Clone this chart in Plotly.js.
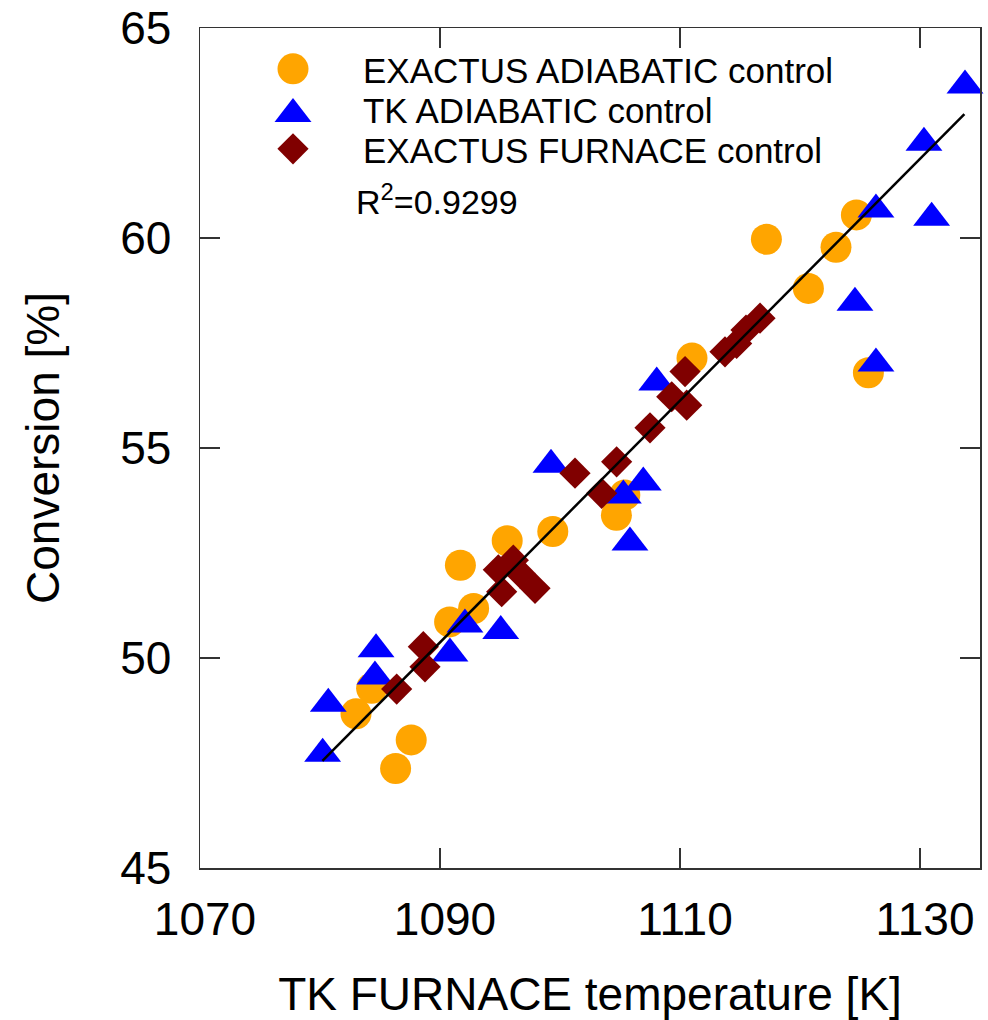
<!DOCTYPE html>
<html>
<head>
<meta charset="utf-8">
<script src="https://cdn.plot.ly/plotly-3.0.1.min.js"></script>
<style>html,body{margin:0;padding:0;background:#fff;}#chart{width:988px;height:1020px;}</style>
</head>
<body>
<div id="chart"></div>
<script>
// EXACTUS ADIABATIC control (orange circles)
var adiabaticExactusX = [1124.7, 1117.2, 1123.0, 1120.7, 1111.0, 1125.7, 1104.7, 1105.4, 1099.4, 1095.6, 1091.7, 1092.8, 1090.8, 1084.3, 1083.0, 1087.6, 1086.3];
var adiabaticExactusY = [60.55, 59.97, 59.78, 58.80, 57.14, 56.79, 53.40, 53.88, 53.01, 52.79, 52.21, 51.18, 50.86, 49.28, 48.67, 48.05, 47.37];
// TK ADIABATIC control (blue triangles)
var adiabaticTkX = [1133.75, 1130.33, 1126.33, 1130.97, 1124.58, 1126.33, 1108.06, 1099.25, 1106.94, 1105.28, 1105.83, 1092.08, 1095.06, 1090.83, 1084.67, 1084.58, 1080.69, 1080.22];
var adiabaticTkY = [63.63, 62.27, 60.68, 60.48, 58.46, 57.01, 56.56, 54.60, 54.18, 53.87, 52.75, 50.80, 50.64, 50.11, 50.21, 49.56, 48.91, 47.72];
// EXACTUS FURNACE control (dark red diamonds)
var furnaceExactusX = [1116.67, 1115.50, 1114.72, 1113.75, 1110.42, 1109.31, 1110.56, 1107.50, 1104.72, 1101.25, 1103.47, 1096.11, 1094.86, 1096.67, 1097.92, 1095.14, 1088.61, 1088.75, 1086.39];
var furnaceExactusY = [58.09, 57.81, 57.49, 57.29, 56.82, 56.22, 56.02, 55.48, 54.67, 54.40, 53.92, 52.33, 52.10, 52.02, 51.66, 51.58, 50.27, 49.79, 49.26];
// Linear fit end points
var fitX = [1080.2, 1133.7];
var fitY = [47.55, 62.95];
var xTicks = [1070, 1090, 1110, 1130];
var yTicks = [45, 50, 55, 60, 65];
var r2Label = 'R<sup>2</sup>=0.9299';

var FONT = 'Liberation Sans, Arial, sans-serif';

var traces = [
  {x: adiabaticExactusX, y: adiabaticExactusY, mode: 'markers', type: 'scatter', name: 'EXACTUS ADIABATIC control',
   marker: {symbol: 'circle', size: 31, color: '#FFA500', line: {width: 0}}},
  {x: adiabaticTkX, y: adiabaticTkY, mode: 'markers', type: 'scatter', name: 'TK ADIABATIC control', cliponaxis: false,
   marker: {symbol: 'triangle-up', size: 32, color: '#0000FF', line: {width: 0}}},
  {x: furnaceExactusX, y: furnaceExactusY, mode: 'markers', type: 'scatter', name: 'EXACTUS FURNACE control',
   marker: {symbol: 'diamond', size: 24, color: '#800000', line: {width: 0}}},
  {x: fitX, y: fitY, mode: 'lines', type: 'scatter', showlegend: false, hoverinfo: 'skip',
   line: {color: '#000000', width: 2.5}}
];

var axisCommon = {
  showgrid: false, zeroline: false, showline: true, linecolor: '#333333', linewidth: 1.5,
  mirror: 'allticks', ticks: 'inside', ticklen: 20, tickwidth: 1.5, tickcolor: '#333333',
  tickfont: {family: FONT, size: 46, color: '#000'}
};

var layout = {
  width: 988, height: 1020,
  margin: {l: 200, r: 8, t: 28, b: 152},
  paper_bgcolor: '#fff', plot_bgcolor: '#fff',
  font: {family: FONT, color: '#000'},
  xaxis: Object.assign({}, axisCommon, {
    range: [1070, 1135], tickvals: xTicks, ticktext: xTicks.map(String),
    ticklabelstandoff: 10, ticklabelshift: 5,
    title: {text: 'TK FURNACE temperature [K]', font: {family: FONT, size: 46, color: '#000'}, standoff: 36}
  }),
  yaxis: Object.assign({}, axisCommon, {
    range: [45, 65], tickvals: yTicks, ticktext: yTicks.map(String),
    ticklabelstandoff: 18,
    title: {text: 'Conversion [%]', font: {family: FONT, size: 46, color: '#000'}, standoff: 46}
  }),
  showlegend: true,
  legend: {x: 0.117, y: 0.99, xanchor: 'left', yanchor: 'top', bgcolor: 'rgba(0,0,0,0)',
           font: {family: FONT, size: 35, color: '#000'}, itemsizing: 'constant', itemwidth: 60},
  annotations: [{xref: 'paper', yref: 'paper', x: 0.198, y: 0.796, xanchor: 'left', yanchor: 'middle',
                 text: r2Label, showarrow: false, font: {family: FONT, size: 34, color: '#000'}}]
};

Plotly.newPlot('chart', traces, layout, {staticPlot: true}).then(function(gd) {
  var sizes = [31, 32, 24];
  var rowCenters = [70, 110, 150];   // target vertical centres of legend rows (px)
  var markerCenterX = 293, textLeftX = 363;
  gd.querySelectorAll('.legend [clip-path]').forEach(function(e) { e.removeAttribute('clip-path'); });
  var items = gd.querySelectorAll('.legend .traces');
  items.forEach(function(item, i) {
    var txt = item.querySelector('text.legendtext');
    var tr = txt.getBoundingClientRect();
    var cy = tr.top + tr.height / 2;
    var dy = rowCenters[i] - cy;
    var t0 = item.getAttribute('transform') || '';
    item.setAttribute('transform', 'translate(0,' + dy + ') ' + t0);
    tr = txt.getBoundingClientRect();
    var dxText = textLeftX - tr.left;
    txt.setAttribute('x', (parseFloat(txt.getAttribute('x')) || 0) + dxText);
    var pts = item.querySelectorAll('path.scatterpts');
    pts.forEach(function(p) {
      var t = p.getAttribute('transform') || '';
      var sc = ' scale(' + (sizes[i] / 12) + ')';
      p.setAttribute('transform', t + sc);
      var pr = p.getBoundingClientRect();
      var cx = pr.left + pr.width / 2;
      var pcy = pr.top + pr.height / 2;
      var dxm = markerCenterX - cx;
      var dym = (i === 1) ? (rowCenters[i] - pcy) : 0;
      p.setAttribute('transform', 'translate(' + dxm + ',' + dym + ') ' + t + sc);
    });
  });
});
</script>
</body>
</html>
